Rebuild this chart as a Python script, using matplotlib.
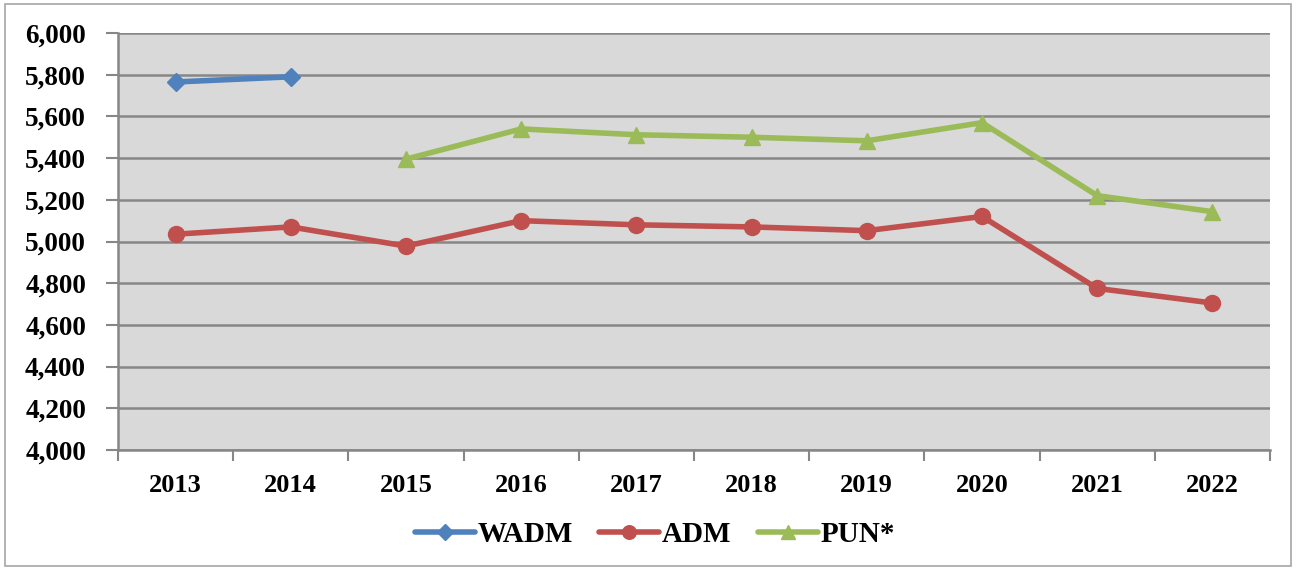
import matplotlib
matplotlib.use("Agg")
import matplotlib.pyplot as plt
import numpy as np
from matplotlib.patches import Rectangle

years = ["2013", "2014", "2015", "2016", "2017", "2018", "2019", "2020", "2021", "2022"]
wadm = [5765, 5790, None, None, None, None, None, None, None, None]
adm = [5035, 5070, 4978, 5100, 5080, 5070, 5052, 5120, 4775, 4705]
pun = [None, None, 5395, 5540, 5512, 5500, 5483, 5570, 5220, 5143]
yticks = [4000, 4200, 4400, 4600, 4800, 5000, 5200, 5400, 5600, 5800, 6000]

plt.rcParams['font.family'] = ['Liberation Serif', 'DejaVu Serif']
plt.rcParams['font.weight'] = 'bold'

W, H = 1297, 569
fig = plt.figure(figsize=(W/100, H/100), dpi=100)
ax = fig.add_axes([118/W, 1-450/H, (1270-118)/W, (450-33)/H])
ax.set_facecolor('#D9D9D9')

x = np.arange(len(years))
def arr(v):
    return np.array([np.nan if a is None else a for a in v], dtype=float)

ax.plot(x, arr(wadm), color='#4F81BD', lw=4.0, marker='D', ms=9, label='WADM', zorder=3, solid_capstyle='round')
ax.plot(x, arr(adm), color='#C0504D', lw=4.0, marker='o', ms=11.5, label='ADM', zorder=3, solid_capstyle='round')
ax.plot(x, arr(pun), color='#9BBB59', lw=4.0, marker='^', ms=11.5, label='PUN*', zorder=3, solid_capstyle='round')

ax.set_ylim(4000, 6000)
ax.set_xlim(-0.5, 9.5)
ax.set_yticks(yticks)
ax.set_yticklabels([f"{v:,}" for v in yticks], fontsize=19.5, fontweight='bold')
ax.yaxis.grid(True, color='#878787', lw=1.8)
ax.set_axisbelow(True)
ax.tick_params(axis='y', length=9, width=1.5, color='#878787', pad=14)

ax.set_xticks(x)
ax.set_xticklabels(years, fontsize=19, fontweight='bold')
ax.tick_params(axis='x', which='major', length=0, pad=17)
ax.set_xticks(np.arange(-0.5, 10.0, 1.0), minor=True)
ax.tick_params(axis='x', which='minor', length=8, width=1.5, color='#878787')

for s in ['top', 'right']:
    ax.spines[s].set_visible(False)
for s in ['left', 'bottom']:
    ax.spines[s].set_color('#878787')
    ax.spines[s].set_linewidth(1.8)

leg = fig.legend(loc='center', bbox_to_anchor=(655/W, 1-535/H), ncol=3, frameon=False,
                 prop={'family': 'Liberation Serif', 'weight': 'bold', 'size': 21},
                 handlelength=2.05, columnspacing=0.9, handletextpad=0.1, markerscale=0.85)

fig.patches.append(Rectangle((5/W, 3/H), (1291-5)/W, (565-3)/H, transform=fig.transFigure,
                             fill=False, edgecolor='#A6A6A6', lw=1.2))

fig.savefig('out.png', dpi=100, facecolor='white')
